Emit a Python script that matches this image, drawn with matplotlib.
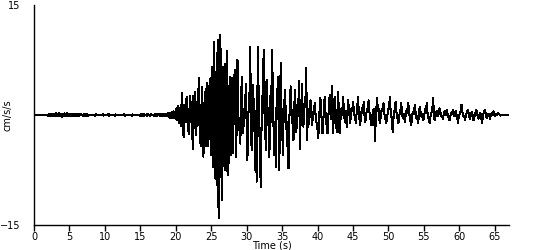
import numpy as np
import matplotlib
matplotlib.use("Agg")
import matplotlib.pyplot as plt

# accelerogram, one row per second, sample every 0.1 s (cm/s/s)
dt = 0.1
rows = [
    [0.0, 0.03, -0.04, 0.03, -0.03, 0.04, -0.03, 0.03, -0.04, 0.03],            # 0 s
    [-0.03, 0.04, -0.04, 0.03, -0.03, 0.04, -0.04, 0.03, -0.03, 0.04],
    [-0.15, 0.18, -0.12, 0.1, -0.14, 0.2, -0.15, 0.12, -0.1, 0.15],
    [-0.2, 0.22, -0.18, 0.15, -0.2, 0.25, -0.15, 0.18, -0.2, 0.15],
    [-0.25, 0.2, -0.18, 0.22, -0.15, 0.12, -0.2, 0.25, -0.15, 0.1],
    [-0.1, 0.12, -0.15, 0.1, -0.08, 0.12, -0.1, 0.08, -0.12, 0.1],             # 5 s
    [-0.08, 0.1, -0.15, 0.12, -0.1, 0.08, -0.06, 0.1, -0.08, 0.06],
    [-0.12, 0.15, -0.1, 0.12, -0.15, 0.1, -0.08, 0.06, -0.05, 0.04],
    [-0.04, 0.05, -0.06, 0.04, -0.05, 0.06, -0.12, 0.1, -0.04, 0.05],
    [-0.05, 0.04, -0.05, 0.06, -0.04, 0.05, -0.06, 0.12, -0.1, 0.05],
    [-0.05, 0.04, -0.06, 0.05, -0.04, 0.15, -0.12, 0.05, -0.06, 0.04],         # 10 s
    [-0.05, 0.06, -0.04, 0.05, -0.12, 0.1, -0.05, 0.04, -0.06, 0.05],
    [-0.04, 0.05, -0.06, 0.04, -0.05, 0.06, -0.04, 0.12, -0.15, 0.05],
    [-0.05, 0.04, -0.06, 0.05, -0.04, 0.06, -0.05, 0.04, -0.12, 0.1],
    [-0.05, 0.06, -0.04, 0.05, -0.06, 0.04, -0.05, 0.06, -0.04, 0.05],
    [-0.15, 0.12, -0.1, 0.15, -0.12, 0.1, -0.08, 0.06, -0.05, 0.1],            # 15 s
    [-0.12, 0.08, -0.06, 0.05, -0.1, 0.12, -0.06, 0.05, -0.04, 0.06],
    [-0.12, 0.1, -0.15, 0.12, -0.1, 0.08, -0.06, 0.1, -0.12, 0.15],
    [-0.15, 0.12, -0.18, 0.15, -0.12, 0.2, -0.15, 0.18, -0.2, 0.22],
    [-0.25, 0.3, -0.35, 0.3, -0.4, 0.45, -0.35, 0.5, -0.45, 0.4],
    [-0.6, 0.9, -0.7, 1.2, -1.1, 0.9, -1.0, 1.4, -1.5, 3.0],                   # 20 s
    [-0.5, -3.0, 1.2, -0.8, 2.2, -1.0, 2.4, -2.2, 0.8, -2.6],
    [2.6, -0.8, 1.8, -1.6, -4.6, 2.6, -1.0, 3.2, -2.8, 1.0],
    [-1.5, 3.6, -1.4, 5.0, -3.8, 1.4, -4.2, 3.8, -1.5, -5.7],
    [1.6, -2.0, 3.6, -4.3, 4.4, -1.2, -4.3, 4.0, -2.5, 5.0],
    [-5.5, 6.6, -7.1, 3.0, 10.0, -4.5, -8.7, 4.0, 8.4, -12.5],                 # 25 s
    [10.3, -14.0, 10.9, -8.5, 9.0, -11.6, 3.0, 6.6, -7.0, 7.0],
    [-7.5, 3.5, 8.7, -8.2, 4.0, -6.5, 2.5, 5.2, -5.5, 5.0],
    [-5.2, -1.0, 2.0, 6.2, 0.5, -5.7, -1.0, 7.5, 1.0, -2.0],
    [-1.5, -3.9, 1.0, 5.2, 0.5, -2.5, -0.5, 1.0, 2.0, 4.3],
    [-2.0, -6.2, -1.0, 1.5, 3.0, 9.3, -1.0, -4.8, 1.0, 4.1],                   # 30 s
    [1.0, -2.0, -7.5, 0.5, -9.1, 2.0, 9.3, 1.0, -2.5, -7.1],
    [-9.8, -1.0, 2.0, 4.0, 8.9, 0.5, -1.5, -4.8, 4.8, -1.0],
    [1.0, -2.0, -5.7, 0.5, 3.9, -1.0, 8.9, 1.0, -2.0, -5.5],
    [-1.0, -7.1, 1.0, 2.0, 5.2, -1.5, -7.5, 1.0, 7.1, 1.0],
    [-1.0, -5.5, -0.5, 1.5, 3.4, 0.5, -1.5, -4.3, -1.0, -7.3],                 # 35 s
    [-1.0, 1.5, 3.9, 1.0, -0.5, -1.5, -3.4, 0.5, 3.4, 1.0],
    [-2.3, -0.5, 1.0, 2.0, 4.6, -4.6, -1.0, 1.0, 4.3, 0.5],
    [-1.6, 0.5, 1.5, 2.5, 6.4, -3.4, -0.5, -1.6, 0.5, 1.0],
    [2.0, 0.5, -1.4, -0.5, 0.3, 0.8, 1.6, 0.2, -0.8, -1.2],
    [-2.0, -3.2, -0.5, 1.0, 2.3, 0.5, -1.0, -2.5, -0.8, 0.8],                  # 40 s
    [2.5, 0.5, -0.8, -1.5, -2.5, -0.5, 1.0, 2.7, 0.5, -0.5],
    [3.9, 0.0, -2.5, 0.5, 2.5, 0.5, -1.0, -2.3, 0.5, 3.2],
    [0.0, -2.5, -1.0, 0.5, 1.0, 0.0, 2.5, 0.8, -0.5, -1.0],
    [0.5, -1.6, 0.2, 2.0, 1.0, 0.0, -1.1, 0.0, 1.0, 0.5],
    [1.8, 0.8, 0.0, -0.5, -1.1, 0.2, 1.0, 2.5, 0.5, -0.5],                     # 45 s
    [-1.4, -0.5, 0.5, 1.0, 0.3, 1.8, 0.2, -1.0, -0.5, 0.3],
    [0.8, 1.0, 2.0, 0.5, -0.3, -0.8, -1.4, -0.5, 0.5, 0.8],
    [-0.5, -3.6, -0.5, 0.8, 2.3, 0.5, 0.8, -0.5, -1.1, -0.3],
    [0.5, 0.8, 1.0, 1.6, 0.3, -0.3, -0.6, -1.1, -0.3, 0.3],
    [0.8, 1.2, 2.5, 0.5, 0.0, -1.0, -2.3, -0.5, 0.3, 1.0],                     # 50 s
    [1.8, 0.5, 0.0, -0.6, -1.1, -0.3, 0.3, 0.8, 1.6, 0.3],
    [-0.3, -0.5, 0.2, -0.9, -0.2, 0.5, 0.8, 0.3, 1.6, 0.5],
    [-0.3, -0.8, -1.4, -0.5, 0.3, 0.5, 0.2, 1.4, 0.5, -0.3],
    [-0.5, -0.2, -1.1, 0.3, 1.1, 0.5, 0.0, -0.3, 0.2, -0.7],
    [-0.3, 0.3, 0.8, 0.5, 1.6, 0.3, -0.3, -0.6, -1.1, -0.3],                   # 55 s
    [0.0, 0.5, 1.0, 2.3, 0.3, -0.7, -0.3, 0.2, 0.6, 0.2],
    [-0.2, 0.3, 0.9, 0.5, 0.0, -0.3, -0.2, -0.5, 0.2, 0.5],
    [0.3, 0.0, 0.7, 0.4, -0.2, -0.4, -0.7, -0.3, 0.2, 0.4],
    [0.2, 0.7, 0.3, -0.2, 0.2, 0.5, 0.0, -0.4, -1.1, -0.3],
    [0.0, 0.4, 0.6, 1.4, 0.5, 0.0, -0.3, -0.2, -0.7, -0.2],                    # 60 s
    [0.2, 0.4, 0.7, 0.2, -0.3, -0.5, 0.0, 0.3, 0.4, -0.2],
    [-0.7, -0.3, 0.2, 0.4, 0.7, 0.3, -0.2, -0.5, -0.1, 0.3],
    [0.2, -0.4, -1.1, -0.3, 0.2, 0.4, 0.7, 0.2, -0.2, -0.4],
    [-0.1, 0.2, 0.0, -0.5, -0.2, 0.2, 0.3, 0.0, 0.5, 0.2],
    [-0.1, 0.1, 0.2, 0.0, 0.1, 0.25, 0.1, 0.0, -0.1, 0.05],                    # 65 s
    [0.05, 0.0, 0.05, 0.0, 0.05, 0.0, 0.0, 0.0, 0.0, 0.0, 0.0],
]

accel = np.concatenate([np.array(r) for r in rows])
time = np.arange(len(accel)) * dt

x_ticks = [0, 5, 10, 15, 20, 25, 30, 35, 40, 45, 50, 55, 60, 65]
y_ticks = [-15, 15]

fig = plt.figure(figsize=(5.5, 2.5), dpi=100)
ax = fig.add_axes([34/550, 25/250, 475/550, 220/250])

ax.plot(time, accel, color='black', linewidth=0.75, antialiased=False)

ax.set_xlim(0, 67)
ax.set_ylim(-15, 15)
ax.set_xticks(x_ticks)
ax.set_yticks(y_ticks)
ax.tick_params(axis='x', direction='out', length=4, width=1, pad=1, labelsize=7)
ax.tick_params(axis='y', length=0, pad=10, labelsize=7)
ax.set_xlabel('Time (s)', fontsize=7, labelpad=-1)
ax.set_ylabel('cm/s/s', fontsize=7)
ax.yaxis.set_label_coords(-0.046, 0.5)

for s in ['top', 'right']:
    ax.spines[s].set_visible(False)
for s in ['left', 'bottom']:
    ax.spines[s].set_linewidth(1)

fig.savefig('out.png', dpi=100)
